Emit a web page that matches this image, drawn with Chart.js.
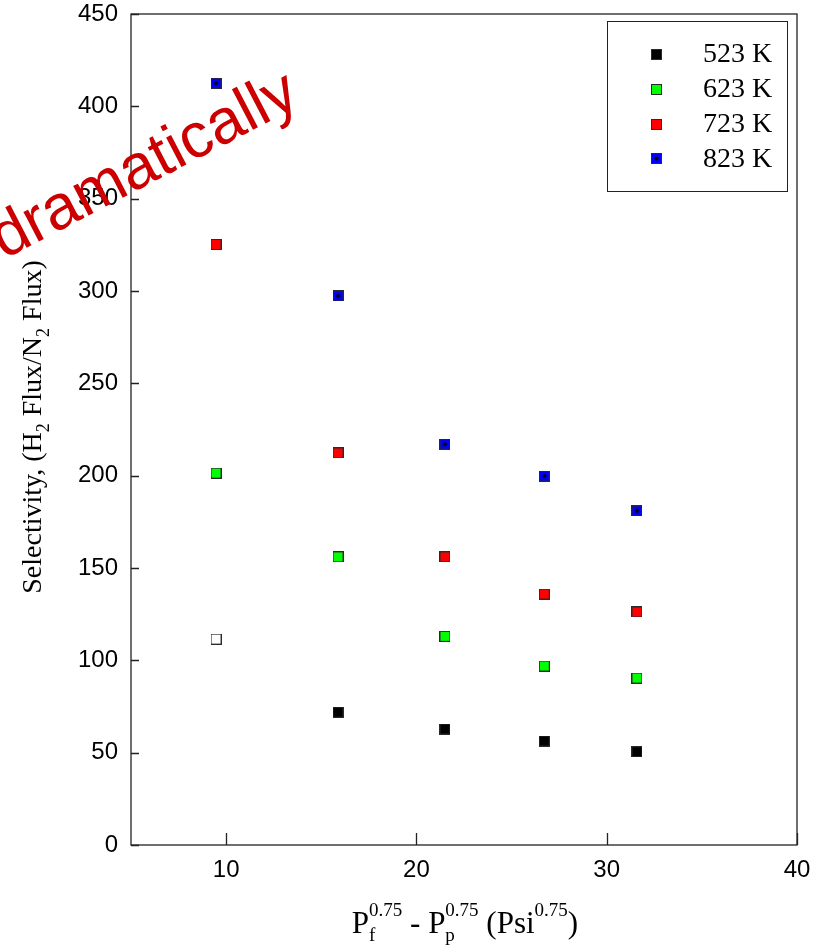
<!DOCTYPE html>
<html>
<head>
<meta charset="utf-8">
<title>Selectivity vs pressure driving force</title>
<script src="https://cdn.jsdelivr.net/npm/chart.js@4.4.1/dist/chart.umd.min.js"></script>
<style>
  html, body { margin: 0; padding: 0; background: #fff; }
  #wrap { width: 824px; height: 949px; position: relative; }
</style>
</head>
<body>
<div id="wrap"><canvas id="selChart"></canvas></div>
<script>
// data
const drivingForce = [9.47, 15.88, 21.5, 26.72, 31.59];
const sel523 = [111.5, 71.9, 62.8, 56.3, 50.5];
const sel623 = [201.4, 156.0, 113.0, 96.9, 90.4];
const sel723 = [325.2, 212.3, 156.0, 135.9, 126.2];
const sel823 = [412.5, 297.3, 217.1, 199.8, 180.9];
const seriesLabels = ['523 K', '623 K', '723 K', '823 K'];
const xTicks = [10, 20, 30, 40];

const SANS = '"Liberation Sans", Arial, sans-serif';
const SERIF = '"Liberation Serif", "Times New Roman", serif';

// square marker drawn into a small canvas so it can be used as pointStyle
function makeMarker(fill, dot) {
    const c = document.createElement('canvas');
    c.width = 11; c.height = 11;
    const g = c.getContext('2d');
    g.fillStyle = '#2a2a2a';
    g.fillRect(0, 0, 11, 11);
    g.fillStyle = fill;
    g.fillRect(1, 1, 9, 9);
    if (dot) {
        g.fillStyle = '#000';
        g.beginPath();
        g.arc(5.5, 5.5, 2, 0, Math.PI * 2);
        g.fill();
    }
    return c;
}

const markers = [
    makeMarker('#000000'),
    makeMarker('#00ff00'),
    makeMarker('#ff0000'),
    makeMarker('#0000ff', true)
];
const openMarker = makeMarker('#ffffff');

function toPoints(values) {
    return drivingForce.map((x, i) => ({ x: x, y: values[i] }));
}

// text with sub/superscripts, parts laid out left to right
function richWidth(ctx, parts) {
    let x = 0, prevStart = 0;
    parts.forEach(p => {
        ctx.font = p.size + 'px ' + SERIF;
        const start = p.stack ? prevStart : x;
        const end = start + ctx.measureText(p.t).width;
        prevStart = start;
        x = p.stack ? Math.max(x, end) : end;
    });
    return x;
}

function drawRich(ctx, parts, x0, y0) {
    let x = x0, prevStart = x0;
    ctx.textBaseline = 'alphabetic';
    ctx.textAlign = 'left';
    parts.forEach(p => {
        ctx.font = p.size + 'px ' + SERIF;
        const start = p.stack ? prevStart : x;
        ctx.fillText(p.t, start, y0 + (p.dy || 0));
        const end = start + ctx.measureText(p.t).width;
        prevStart = start;
        x = p.stack ? Math.max(x, end) : end;
    });
}

const xTitle = [
    { t: 'P', size: 31 },
    { t: 'f', size: 19, dy: 8 },
    { t: '0.75', size: 19, dy: -17, stack: true },
    { t: ' - P', size: 31 },
    { t: 'p', size: 19, dy: 8 },
    { t: '0.75', size: 19, dy: -17, stack: true },
    { t: ' (Psi', size: 31 },
    { t: '0.75', size: 19, dy: -17 },
    { t: ')', size: 31 }
];

const yTitle = [
    { t: 'Selectivity, (H', size: 28 },
    { t: '2', size: 18, dy: 8 },
    { t: ' Flux/N', size: 28 },
    { t: '2', size: 18, dy: 8 },
    { t: ' Flux)', size: 28 }
];

// frame, inward ticks, axis titles, legend box and the red overlay word
const decorPlugin = {
    id: 'decor',
    afterDraw(chart) {
        const ctx = chart.ctx;
        const a = chart.chartArea;
        const xs = chart.scales.x, ys = chart.scales.y;
        ctx.save();

        ctx.strokeStyle = '#222';
        ctx.lineWidth = 1.3;
        ctx.strokeRect(a.left, a.top, a.right - a.left, a.bottom - a.top);

        ctx.beginPath();
        xs.ticks.forEach(t => {
            const px = Math.round(xs.getPixelForValue(t.value)) + 0.5;
            ctx.moveTo(px, a.bottom);
            ctx.lineTo(px, a.bottom - 12);
        });
        ys.ticks.forEach(t => {
            const py = Math.round(ys.getPixelForValue(t.value)) + 0.5;
            ctx.moveTo(a.left, py);
            ctx.lineTo(a.left + 8, py);
        });
        ctx.stroke();

        // axis titles
        ctx.fillStyle = '#000';
        const xw = richWidth(ctx, xTitle);
        drawRich(ctx, xTitle, 465 - xw / 2, 933);

        ctx.save();
        ctx.translate(41, 427);
        ctx.rotate(-Math.PI / 2);
        const yw = richWidth(ctx, yTitle);
        drawRich(ctx, yTitle, -yw / 2, 0);
        ctx.restore();

        // legend
        ctx.strokeStyle = '#222';
        ctx.lineWidth = 1;
        ctx.strokeRect(607.5, 21.5, 180, 170);
        ctx.font = '28px ' + SERIF;
        ctx.textBaseline = 'middle';
        ctx.textAlign = 'left';
        chart.data.datasets.forEach((ds, i) => {
            const cy = 54 + i * 34.8;
            ctx.drawImage(markers[i], 651, Math.round(cy) - 5);
            ctx.fillText(ds.label, 703, cy + 1);
        });

        // overlay word
        ctx.save();
        ctx.translate(153, 182);
        ctx.rotate(-27.5 * Math.PI / 180);
        ctx.font = '63px ' + SANS;
        ctx.fillStyle = '#cc0000';
        ctx.textAlign = 'center';
        ctx.textBaseline = 'alphabetic';
        ctx.fillText('dramatically', 0, 0);
        ctx.restore();

        ctx.restore();
    }
};

const seriesValues = [sel523, sel623, sel723, sel823];

new Chart(document.getElementById('selChart'), {
    type: 'scatter',
    data: {
        datasets: seriesValues.map((vals, i) => ({
            label: seriesLabels[i],
            data: toPoints(vals),
            pointRadius: 5,
            pointStyle: i === 0
                ? (c => c.dataIndex === 0 ? openMarker : markers[0])
                : markers[i]
        }))
    },
    options: {
        responsive: true,
        maintainAspectRatio: false,
        animation: false,
        layout: { padding: { top: 14, right: 27, left: 0, bottom: 0 } },
        plugins: {
            legend: { display: false },
            tooltip: { enabled: false }
        },
        scales: {
            x: {
                type: 'linear',
                min: 5,
                max: 40,
                afterBuildTicks: scale => { scale.ticks = xTicks.map(v => ({ value: v })); },
                afterFit: scale => {
                    scale.height = 104;
                    scale.paddingLeft = 0;
                    scale.paddingRight = 0;
                },
                grid: { display: false, drawTicks: false },
                border: { display: false },
                ticks: {
                    padding: 11,
                    color: '#000',
                    font: { family: SANS, size: 24 }
                },
                title: { display: false }
            },
            y: {
                type: 'linear',
                min: 0,
                max: 450,
                afterFit: scale => {
                    scale.width = 131;
                    scale.paddingTop = 0;
                    scale.paddingBottom = 0;
                },
                grid: { display: false, drawTicks: false },
                border: { display: false },
                ticks: {
                    stepSize: 50,
                    padding: 13,
                    color: '#000',
                    font: { family: SANS, size: 24 }
                },
                title: { display: false }
            }
        }
    },
    plugins: [decorPlugin]
});
</script>
</body>
</html>
